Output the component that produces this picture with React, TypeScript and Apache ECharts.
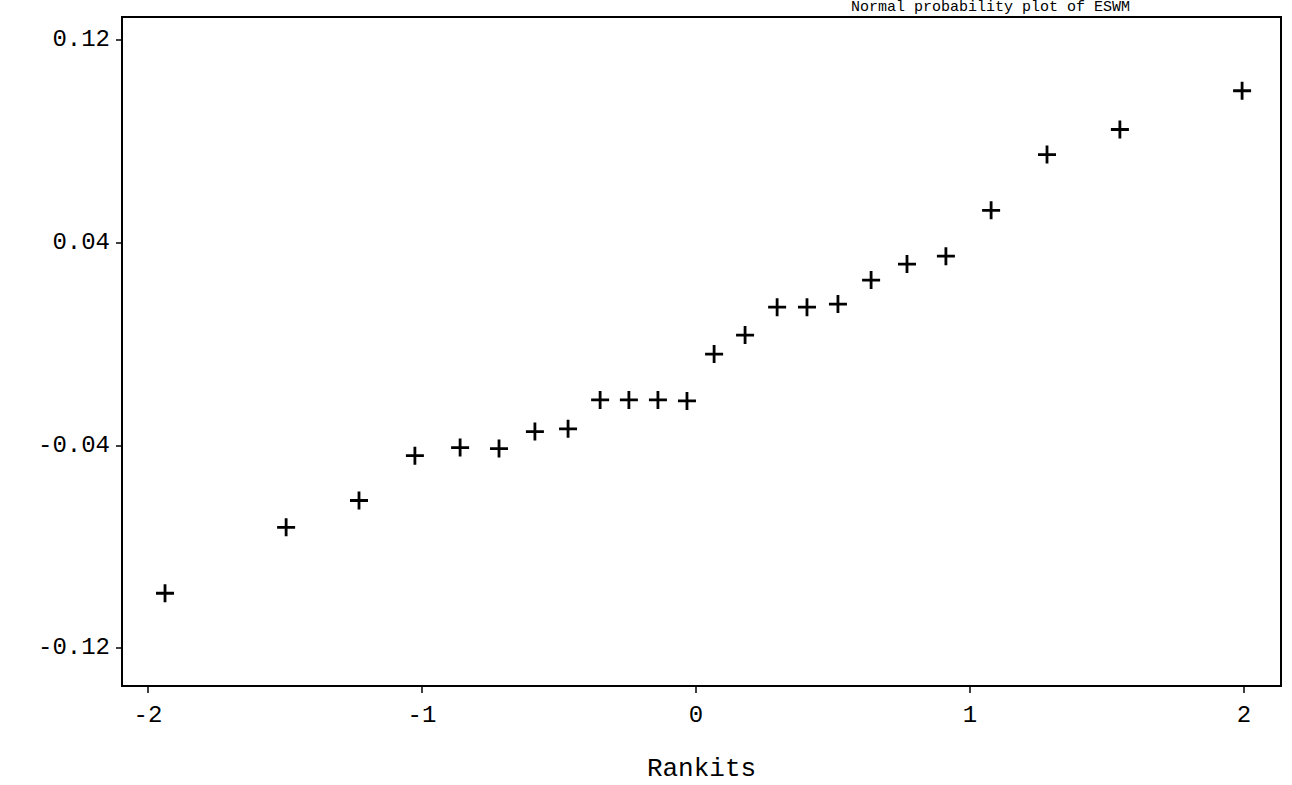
import React, { useEffect, useRef } from "react";
import * as echarts from "echarts";

const titleText = "Normal probability plot of ESWM";
const xAxisName = "Rankits";
const xTickValues = [-2, -1, 0, 1, 2];
const yTickValues = [-0.12, -0.04, 0.04, 0.12];

const rankits = [
  -1.938, -1.496, -1.23, -1.026, -0.861, -0.719, -0.588, -0.467, -0.35, -0.245,
  -0.139, -0.033, 0.066, 0.179, 0.296, 0.405, 0.518, 0.639, 0.77, 0.912,
  1.077, 1.281, 1.547, 1.993,
];
const eswm = [
  -0.0984, -0.0724, -0.0618, -0.0441, -0.0409, -0.0413, -0.0346, -0.0335, -0.0221, -0.0221,
  -0.0221, -0.0225, -0.004, 0.0035, 0.0145, 0.0145, 0.0157, 0.0252, 0.0315, 0.0346,
  0.0527, 0.0747, 0.0846, 0.0999,
];

const MONO = '"Liberation Mono", "DejaVu Sans Mono", monospace';
const PLUS = "path://M7.6,0h2.8v7.6h7.6v2.8h-7.6v7.6h-2.8v-7.6h-7.6v-2.8h7.6z";

export default function App() {
  const ref = useRef<HTMLDivElement>(null);

  useEffect(() => {
    if (!ref.current) return;
    const chart = echarts.init(ref.current, null, { renderer: "svg" });
    const data = rankits.map((x, i) => [x, eswm[i]]);
    chart.setOption({
      animation: false,
      backgroundColor: "#fff",
      grid: {
        left: 122,
        right: 11,
        top: 17,
        bottom: 99,
        show: true,
        borderColor: "#000",
        borderWidth: 2,
        backgroundColor: "transparent",
        outerBoundsMode: "none",
        containLabel: false,
      },
      graphic: [
        {
          type: "text",
          x: 1130,
          y: 0,
          style: {
            text: titleText,
            textAlign: "right",
            textVerticalAlign: "top",
            font: `15px ${MONO}`,
            fill: "#000",
          },
        },
      ],
      xAxis: {
        type: "value",
        min: -2.095,
        max: 2.135,
        name: xAxisName,
        nameLocation: "middle",
        nameGap: 70,
        nameTextStyle: { fontFamily: MONO, fontSize: 26, color: "#000" },
        splitLine: { show: false },
        axisLine: { show: true, onZero: false, lineStyle: { color: "#000", width: 2 } },
        axisTick: {
          show: true,
          customValues: xTickValues,
          length: 7,
          lineStyle: { color: "#000", width: 1.5 },
        },
        axisLabel: {
          customValues: xTickValues,
          margin: 17,
          fontFamily: MONO,
          fontSize: 24,
          color: "#000",
          formatter: (v: number) => String(v),
        },
      },
      yAxis: {
        type: "value",
        min: -0.135,
        max: 0.129,
        splitLine: { show: false },
        axisLine: { show: true, onZero: false, lineStyle: { color: "#000", width: 2 } },
        axisTick: {
          show: true,
          customValues: yTickValues,
          length: 6,
          lineStyle: { color: "#000", width: 1.5 },
        },
        axisLabel: {
          customValues: yTickValues,
          margin: 12,
          fontFamily: MONO,
          fontSize: 24,
          color: "#000",
          formatter: (v: number) => v.toFixed(2),
        },
      },
      series: [
        {
          type: "scatter",
          data,
          symbol: PLUS,
          symbolSize: 18,
          itemStyle: { color: "#000", opacity: 1 },
        },
      ],
    });
    return () => chart.dispose();
  }, []);

  return (
    <div
      ref={ref}
      style={{ position: "absolute", left: 0, top: 0, width: 1292, height: 785 }}
    />
  );
}
